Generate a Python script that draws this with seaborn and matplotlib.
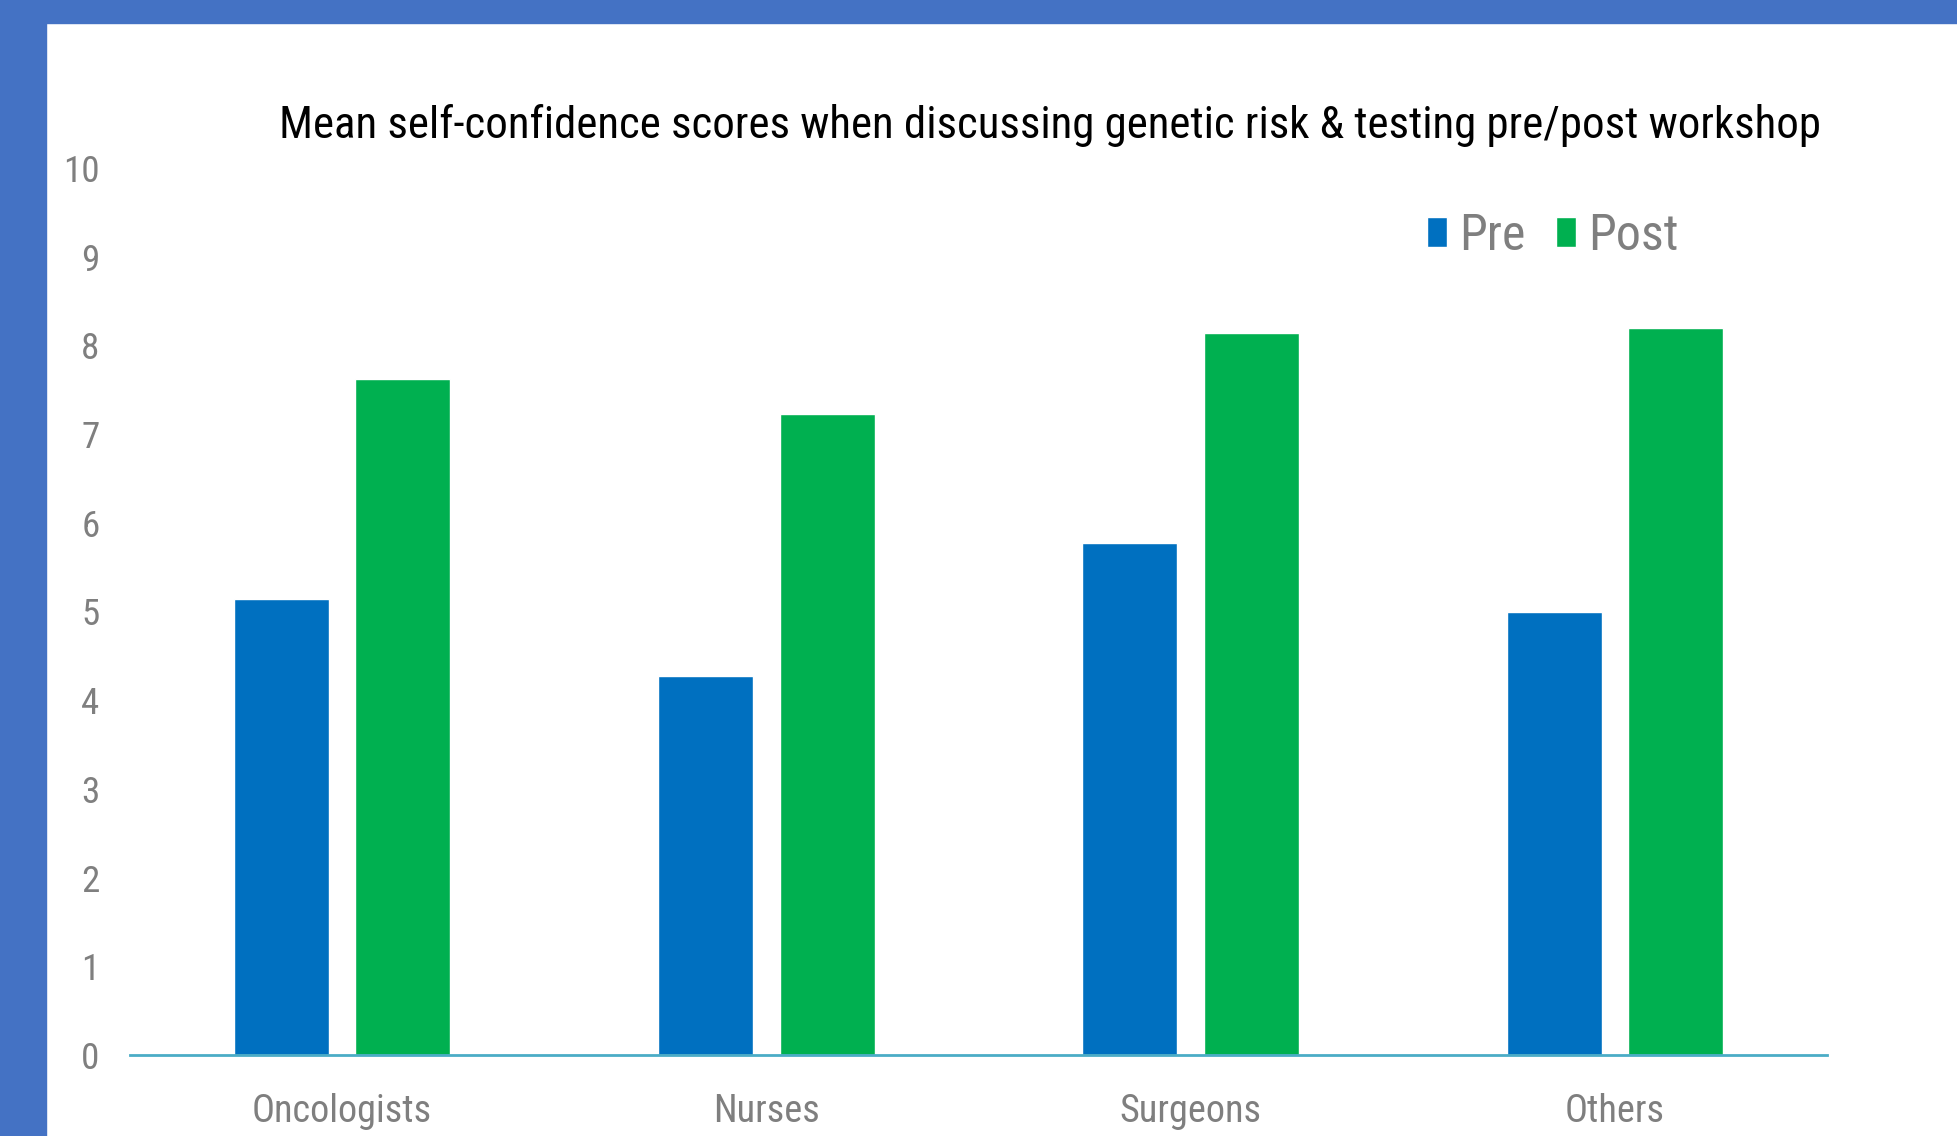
import matplotlib
matplotlib.use("Agg")
import matplotlib.pyplot as plt
from matplotlib.patches import Rectangle
import seaborn as sns
import pandas as pd

# data
groups = ['Oncologists', 'Nurses', 'Surgeons', 'Others']
pre = [5.14, 4.27, 5.77, 4.99]
post = [7.62, 7.23, 8.14, 8.20]
yticks = [0, 1, 2, 3, 4, 5, 6, 7, 8, 9, 10]
title = 'Mean self-confidence scores when discussing genetic risk & testing pre/post workshop'

df = pd.DataFrame({
    'group': groups * 2,
    'score': pre + post,
    'when': ['Pre'] * len(groups) + ['Post'] * len(groups),
})

FONT = 'Roboto Condensed'
sns.set_style('white')
plt.rcParams['font.family'] = [FONT, 'DejaVu Sans']

fig = plt.figure(figsize=(19.57, 11.36), dpi=100)
renderer = fig.canvas.get_renderer()


def fit_size(s, target_px):
    # font size giving the text the width it has in the reference
    t = fig.text(0, 0, s, fontsize=10)
    w = t.get_window_extent(renderer=renderer).width
    t.remove()
    return 10 * target_px / w


# slide frame
fig.patches.append(Rectangle((0, 0), 46 / 1957, 1, transform=fig.transFigure,
                             color='#4472C4', zorder=0))
fig.patches.append(Rectangle((0, 1 - 23 / 1136), 1, 23 / 1136, transform=fig.transFigure,
                             color='#4472C4', zorder=0))

ax = fig.add_axes([130 / 1957, 81 / 1136, 1697 / 1957, 887 / 1136])
sns.barplot(data=df, x='group', y='score', hue='when', order=groups,
            hue_order=['Pre', 'Post'], palette=['#0070C0', '#00B050'],
            width=0.572, gap=0.217, saturation=1, ax=ax, legend=True)

ax.set_xlim(-0.5, 3.5)
ax.set_ylim(0, 10)
ax.set_yticks(yticks)
ax.set_xlabel('')
ax.set_ylabel('')
for s in ['top', 'right', 'left']:
    ax.spines[s].set_visible(False)
ax.spines['bottom'].set_color('#4BACC6')
ax.spines['bottom'].set_linewidth(2)

ysize = fit_size('10', 36)
xsize = fit_size('Oncologists', 180)
ax.tick_params(axis='y', length=0, pad=22, labelsize=ysize, labelcolor='#7F7F7F')
ax.tick_params(axis='x', length=0, pad=27, labelsize=xsize, labelcolor='#7F7F7F')

fig.text(1050 / 1957, 1 - 138 / 1136, title, ha='center', va='baseline',
         fontsize=fit_size(title, 1535), color='black')

leg = ax.legend(loc='center', bbox_to_anchor=(1553 / 1957, 1 - 236 / 1136),
                bbox_transform=fig.transFigure, ncol=2, frameon=False,
                fontsize=fit_size('Post', 90), handlelength=0.4, handleheight=0.55,
                handletextpad=0.25, columnspacing=0.6)
for t in leg.get_texts():
    t.set_color('#7F7F7F')

fig.savefig('out.png', dpi=100)
